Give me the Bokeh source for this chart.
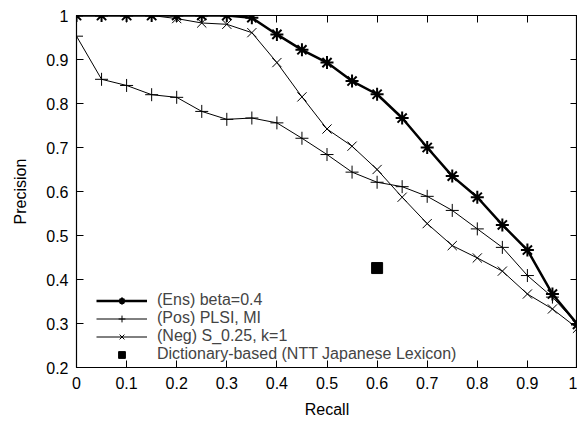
from bokeh.plotting import figure
from bokeh.models import FixedTicker, CustomJSTickFormatter, LinearAxis, Legend, LegendItem, Range1d
from bokeh.embed import file_html
from bokeh.resources import INLINE

recall = [0.0, 0.05, 0.1, 0.15, 0.2, 0.25, 0.3, 0.35, 0.4, 0.45, 0.5,
          0.55, 0.6, 0.65, 0.7, 0.75, 0.8, 0.85, 0.9, 0.95, 1.0]
ens = [1.0, 1.0, 1.0, 1.0, 1.0, 1.0, 1.0, 0.995, 0.957, 0.922, 0.893,
       0.851, 0.821, 0.767, 0.700, 0.635, 0.587, 0.524, 0.467, 0.367, 0.298]
pos = [0.953, 0.855, 0.841, 0.820, 0.814, 0.782, 0.764, 0.767, 0.756, 0.721, 0.684,
       0.644, 0.621, 0.611, 0.589, 0.557, 0.515, 0.473, 0.409, 0.360, 0.298]
neg = [1.0, 1.0, 1.0, 1.0, 0.993, 0.983, 0.980, 0.961, 0.893, 0.815, 0.742,
       0.703, 0.650, 0.587, 0.527, 0.477, 0.449, 0.419, 0.367, 0.333, 0.289]
dict_recall = [0.6]
dict_precision = [0.426]

x_ticks = [0, 0.1, 0.2, 0.3, 0.4, 0.5, 0.6, 0.7, 0.8, 0.9, 1]
y_ticks = [0.2, 0.3, 0.4, 0.5, 0.6, 0.7, 0.8, 0.9, 1]

labels = ["(Ens) beta=0.4", "(Pos) PLSI, MI", "(Neg) S_0.25, k=1",
          "Dictionary-based (NTT Japanese Lexicon)"]

FONT = "Liberation Sans"

p = figure(width=577, height=421, output_backend="svg", toolbar_location=None,
           x_range=Range1d(0, 1), y_range=Range1d(0.2, 1),
           min_border_left=76, min_border_right=0, min_border_top=15, min_border_bottom=54)
p.xgrid.visible = False
p.ygrid.visible = False
p.outline_line_color = "black"
p.outline_line_width = 1.2

fmt = CustomJSTickFormatter(code="return tick.toFixed(1).replace(/\\.0$/, '');")
blank = CustomJSTickFormatter(code="return '';")

def style_axis(ax, ticks, show_labels):
    ax.ticker = FixedTicker(ticks=ticks)
    ax.formatter = fmt if show_labels else blank
    ax.major_tick_in = 7
    ax.major_tick_out = 0
    ax.minor_tick_line_color = None
    ax.axis_line_color = "black"
    ax.major_tick_line_color = "black"
    ax.major_label_text_font = FONT
    ax.major_label_text_font_size = "16px"
    ax.major_label_text_color = "black"
    ax.axis_label_text_font = FONT
    ax.axis_label_text_font_size = "16px"
    ax.axis_label_text_font_style = "normal"
    ax.axis_label_text_color = "black"

p.xaxis.axis_label = "Recall"
p.yaxis.axis_label = "Precision"
style_axis(p.xaxis[0], x_ticks, True)
style_axis(p.yaxis[0], y_ticks, True)
p.xaxis.major_label_standoff = 9
p.xaxis.axis_label_standoff = 9
p.yaxis.major_label_standoff = 8
p.yaxis.axis_label_standoff = 14

top = LinearAxis()
style_axis(top, x_ticks, False)
top.major_label_standoff = 0
p.add_layout(top, "above")
right = LinearAxis()
style_axis(right, y_ticks, False)
right.major_label_standoff = 0
p.add_layout(right, "right")

l_ens = p.line(recall, ens, line_color="black", line_width=2.5)
m_ens = p.scatter(recall, ens, marker="asterisk", size=13, line_color="black", line_width=2)
l_pos = p.line(recall, pos, line_color="black", line_width=1)
m_pos = p.scatter(recall, pos, marker="cross", size=13, line_color="black", line_width=1)
l_neg = p.line(recall, neg, line_color="black", line_width=1)
m_neg = p.scatter(recall, neg, marker="x", size=13, line_color="black", line_width=1)
m_dict = p.scatter(dict_recall, dict_precision, marker="square", size=11,
                   fill_color="black", line_color="black")

legend = Legend(items=[
    LegendItem(label=labels[0], renderers=[l_ens, m_ens]),
    LegendItem(label=labels[1], renderers=[l_pos, m_pos]),
    LegendItem(label=labels[2], renderers=[l_neg, m_neg]),
    LegendItem(label=labels[3], renderers=[m_dict]),
], location=(20, 4))
legend.background_fill_alpha = 0
legend.border_line_alpha = 0
legend.padding = 0
legend.margin = 0
legend.spacing = 0
legend.label_height = 17
legend.glyph_height = 17
legend.glyph_width = 51
legend.label_standoff = 10
legend.label_text_font = FONT
legend.label_text_font_size = "16px"
legend.label_text_line_height = 1.0
p.add_layout(legend, "center")

open("out.html", "w").write(file_html(p, INLINE))
